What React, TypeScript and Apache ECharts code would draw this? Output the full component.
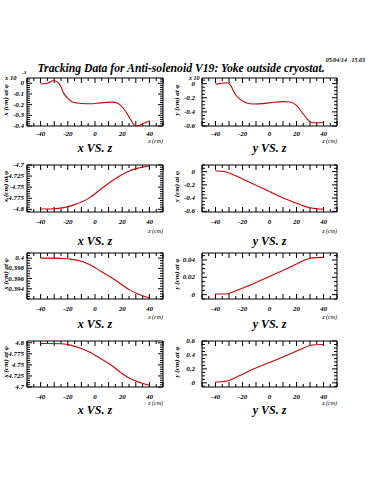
import React, { useEffect, useRef } from 'react';
import * as echarts from 'echarts';

// ---- data ----
const z1 = [-40, -34, -31, -29, -27, -25, -23, -20, -17, -13, -10, -3, 4, 12, 17, 21, 25, 29, 31, 35, 40];
const x1 = [-0.006, 0.006, 0.024, 0.022, 0.005, -0.031, -0.094, -0.142, -0.173, -0.185, -0.189, -0.192, -0.183, -0.176, -0.189, -0.236, -0.315, -0.394, -0.4, -0.378, -0.353];

const z2 = [-40, -37, -33, -31, -29, -27, -25, -21, -17, -12, -5, 3, 10, 15, 20, 24, 28, 31, 35, 40];
const y2 = [-0.005, 0, 0.01, 0.008, -0.02, -0.09, -0.161, -0.234, -0.273, -0.288, -0.283, -0.263, -0.254, -0.259, -0.307, -0.405, -0.502, -0.551, -0.556, -0.551];

const z3 = [-40, -33, -23, -15, -5, 4, 14, 24, 31, 40];
const x3 = [-4.7992, -4.7992, -4.7962, -4.7894, -4.7758, -4.7553, -4.7326, -4.7152, -4.7076, -4.7023];

const z4 = [-40, -32, -25, -12, 0, 13, 23, 30, 40];
const y4 = [0.01, -0.005, -0.064, -0.188, -0.302, -0.421, -0.501, -0.545, -0.57];

const z5 = [-40, -33, -25, -18, -10, -3, 4, 12, 19, 26, 34, 40];
const x5 = [0.4, 0.4, 0.39995, 0.39981, 0.39937, 0.39861, 0.39748, 0.39621, 0.39495, 0.39369, 0.39274, 0.39224];

const z6 = [-40, -32, -25, -12, 0, 13, 23, 30, 40];
const y6 = [0.0007, 0.0007, 0.0044, 0.0125, 0.021, 0.03, 0.0375, 0.042, 0.043];

const z7 = [-40, -33, -25, -18, -10, -3, 4, 12, 19, 26, 34, 40];
const x7 = [4.7985, 4.7985, 4.7977, 4.7947, 4.7871, 4.7773, 4.7644, 4.7492, 4.7326, 4.7189, 4.7091, 4.7038];

const z8 = [-40, -34, -30, -22, -12, 0, 13, 23, 30, 40];
const y8 = [0.009, 0.019, 0.033, 0.104, 0.198, 0.29, 0.395, 0.48, 0.536, 0.55];

// tick labels
const zTickLabels = ['-40', '-20', '0', '20', '40'];
const labels1 = ['0', '-0.1', '-0.2', '-0.3', '-0.4'];
const labels2 = ['0', '-0.2', '-0.4', '-0.6'];
const labels3 = ['-4.7', '-4.725', '-4.75', '-4.775', '-4.8'];
const labels4 = ['0', '-0.2', '-0.4', '-0.6'];
const labels5 = ['0.4', '0.398', '0.396', '0.394'];
const labels6 = ['0.04', '0.02', '0'];
const labels7 = ['4.8', '4.775', '4.75', '4.725', '4.7'];
const labels8 = ['0.6', '0.4', '0.2', '0'];

const captions = ['x VS. z', 'y VS. z', 'x VS. z', 'y VS. z', 'x VS. z', 'y VS. z', 'x VS. z', 'y VS. z'];
const yTitles = ['x (cm) at φ', 'y (cm) at φ'];
const titleText = 'Tracking Data for Anti-solenoid V19: Yoke outside cryostat.';
const dateText = '05/04/14   15.03';

// axis ranges and tick steps
const zMin = -50;
const zMax = 50;
const zMajorStep = 10;
const zMinorStep = 5;
const yMins = [-0.4, -0.6, -4.806, -0.61, 0.392, -0.005, 4.7, -0.06];
const yMaxs = [0.05, 0.08, -4.7, 0.1, 0.401, 0.048, 4.804, 0.6];
const yMinorSteps = [0.02, 0.05, 0.005, 0.05, 0.0005, 0.005, 0.005, 0.05];

const panelZ = [z1, z2, z3, z4, z5, z6, z7, z8];
const panelV = [x1, y2, x3, y4, x5, y6, x7, y8];
const panelLabels = [labels1, labels2, labels3, labels4, labels5, labels6, labels7, labels8];

// ---- layout ----
const colLeft = [27, 202];
const colWidth = [136, 135];
const rowTop = [78, 165, 253, 341];
const rowHeight = [48, 47, 46, 46];
const xLabelMargin = [4, 6, 6, 6];
const yLabelMargin = [3, 7];
const captionY = [148, 241, 324, 410];
const zcmY = [141, 231, 317, 403];
const FONT = "'Liberation Serif', 'DejaVu Serif', serif";
const MAJOR_LEN = 5;
const MINOR_LEN = 3;

function buildOption() {
  const grid: any[] = [];
  const xAxis: any[] = [];
  const yAxis: any[] = [];
  const series: any[] = [];
  const graphic: any[] = [];
  const zVals = zTickLabels.map(Number);

  const labelStyle = { fontSize: 7, fontStyle: 'italic', fontWeight: 'bold', fontFamily: FONT, color: '#000' };

  for (let i = 0; i < 8; i++) {
    const col = i % 2;
    const row = Math.floor(i / 2);
    const left = colLeft[col];
    const top = rowTop[row];
    const w = colWidth[col];
    const h = rowHeight[row];
    grid.push({ left, top, width: w, height: h, show: true, borderColor: '#000', borderWidth: 1 });

    xAxis.push({
      type: 'value', gridIndex: i, min: zMin, max: zMax, interval: zMajorStep, position: 'bottom',
      axisLine: { show: false, onZero: false }, splitLine: { show: false }, axisTick: { show: false },
      axisLabel: {
        ...labelStyle, margin: xLabelMargin[row],
        formatter: (v: number) => {
          const j = zVals.findIndex((t) => Math.abs(t - v) < 1e-6);
          return j >= 0 ? zTickLabels[j] : '';
        },
      },
    });

    const labs = panelLabels[i];
    const vals = labs.map(Number);
    const mn = yMins[i];
    const mx = yMaxs[i];
    const st = yMinorSteps[i];
    const fmt = (v: number) => {
      let best = 0;
      let bd = Infinity;
      vals.forEach((t, j) => { const d = Math.abs(t - v); if (d < bd) { bd = d; best = j; } });
      return labs[best];
    };
    yAxis.push({
      type: 'value', gridIndex: i, min: mn, max: mx, position: 'left',
      axisLine: { show: false, onZero: false }, splitLine: { show: false }, axisTick: { show: false },
      axisLabel: { ...labelStyle, margin: yLabelMargin[col], customValues: vals, formatter: fmt },
    });

    // tick marks: [kind, value]; kind 0 = z major, 1 = z minor, 2 = y major, 3 = y minor
    const ticks: number[][] = [];
    for (let k = Math.ceil(zMin / zMinorStep); k * zMinorStep <= zMax; k++) {
      const v = k * zMinorStep;
      ticks.push([v % zMajorStep === 0 ? 0 : 1, v]);
    }
    vals.forEach((v) => ticks.push([2, v]));
    for (let k = Math.ceil(mn / st - 1e-6); k * st <= mx + 1e-9; k++) {
      const v = +(k * st).toFixed(7);
      if (!vals.some((t) => Math.abs(t - v) < st * 1e-3)) ticks.push([3, v]);
    }

    const zs = panelZ[i];
    const vs = panelV[i];
    series.push({
      type: 'line', xAxisIndex: i, yAxisIndex: i,
      data: zs.map((z, k) => [z, vs[k]]),
      smooth: 0.35, showSymbol: false, clip: true,
      lineStyle: { color: '#d00000', width: 1.1 },
    });
    series.push({
      type: 'custom', xAxisIndex: i, yAxisIndex: i,
      data: ticks,
      renderItem: (_params: any, api: any) => {
        const kind = api.value(0);
        const v = api.value(1);
        const style = { stroke: '#000', lineWidth: 1 };
        if (kind < 2) {
          const len = kind === 0 ? MAJOR_LEN : MINOR_LEN;
          const b = api.coord([v, mn]);
          const t = api.coord([v, mx]);
          return {
            type: 'group',
            children: [
              { type: 'line', shape: { x1: b[0], y1: b[1], x2: b[0], y2: b[1] - len }, style },
              { type: 'line', shape: { x1: t[0], y1: t[1], x2: t[0], y2: t[1] + len }, style },
            ],
          };
        }
        const len = kind === 2 ? MAJOR_LEN : MINOR_LEN;
        const l = api.coord([zMin, v]);
        const r = api.coord([zMax, v]);
        return {
          type: 'group',
          children: [
            { type: 'line', shape: { x1: l[0], y1: l[1], x2: l[0] + len, y2: l[1] }, style },
            { type: 'line', shape: { x1: r[0], y1: r[1], x2: r[0] - len, y2: r[1] }, style },
          ],
        };
      },
    });

    graphic.push({
      type: 'text', x: left + w / 2, y: captionY[row],
      style: { text: captions[i], font: `bold italic 12px ${FONT}`, fill: '#000', align: 'center', verticalAlign: 'middle' },
    });
    graphic.push({
      type: 'text', x: left + w, y: zcmY[row],
      style: { text: 'z (cm)', font: `italic 6px ${FONT}`, fill: '#000', align: 'right', verticalAlign: 'middle' },
    });
    graphic.push({
      type: 'text', x: col === 0 ? 6 : 177, y: top + h / 2 - 2, rotation: Math.PI / 2,
      style: { text: yTitles[col], font: `bold italic 7px ${FONT}`, fill: '#000', align: 'center', verticalAlign: 'middle' },
    });
  }

  graphic.push({
    type: 'text', x: 181, y: 68,
    style: { text: titleText, font: `bold italic 11.7px ${FONT}`, fill: '#000', align: 'center', verticalAlign: 'middle' },
  });
  graphic.push({
    type: 'text', x: 365, y: 60,
    style: { text: dateText, font: `bold italic 6px ${FONT}`, fill: '#000', align: 'right', verticalAlign: 'middle' },
  });
  graphic.push({
    type: 'text', x: 5, y: 77,
    style: { text: 'x 10', font: `bold italic 6.5px ${FONT}`, fill: '#000', align: 'left', verticalAlign: 'middle' },
  });
  graphic.push({
    type: 'text', x: 22, y: 72,
    style: { text: '-3', font: `bold italic 5px ${FONT}`, fill: '#000', align: 'left', verticalAlign: 'middle' },
  });
  graphic.push({
    type: 'text', x: 189, y: 78,
    style: { text: 'x 10', font: `bold italic 6px ${FONT}`, fill: '#000', align: 'left', verticalAlign: 'middle' },
  });

  return {
    animation: false,
    backgroundColor: '#fff',
    grid, xAxis, yAxis, series, graphic,
  };
}

export default function App() {
  const ref = useRef<HTMLDivElement>(null);
  useEffect(() => {
    if (!ref.current) return;
    const chart = echarts.init(ref.current, undefined, { renderer: 'svg' });
    chart.setOption(buildOption() as any);
    return () => chart.dispose();
  }, []);
  return (
    <div
      ref={ref}
      style={{ position: 'absolute', left: 0, top: 0, width: 375, height: 500, background: '#fff' }}
    />
  );
}
